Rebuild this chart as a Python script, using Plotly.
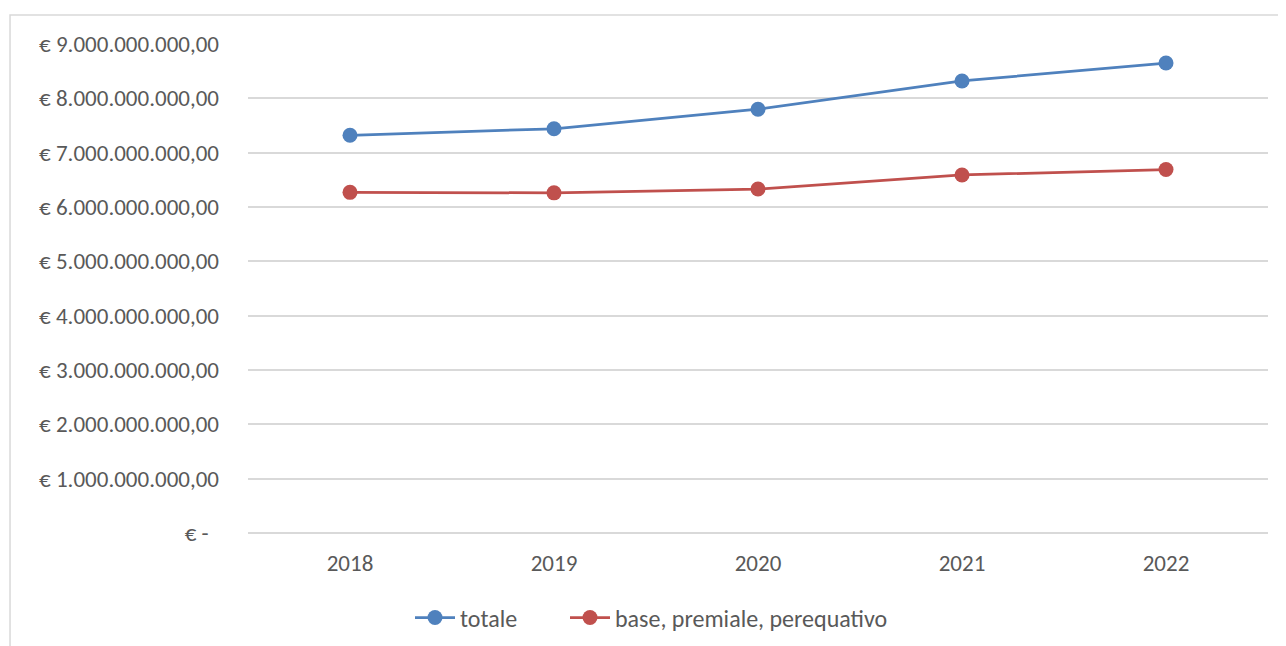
import plotly.graph_objects as go

years = ["2018", "2019", "2020", "2021", "2022"]
totale = [7.32e9, 7.44e9, 7.80e9, 8.32e9, 8.65e9]
base_premiale = [6.27e9, 6.26e9, 6.33e9, 6.59e9, 6.69e9]
series_names = ["totale", "base, premiale, perequativo"]
y_tick_vals = [0, 1e9, 2e9, 3e9, 4e9, 5e9, 6e9, 7e9, 8e9, 9e9]
y_tick_text = ["€ -\u00a0\u00a0"] + [f"€ {i}.000.000.000,00" for i in range(1, 10)]

FONT = "Carlito, Calibri, Lato, sans-serif"
TXT = "#595959"
FS = 23

fig = go.Figure()
fig.add_trace(go.Scatter(
    x=years, y=totale, name=series_names[0], mode="lines+markers",
    line=dict(color="#4F81BD", width=2.75),
    marker=dict(color="#4F81BD", size=15),
    legend="legend",
))
fig.add_trace(go.Scatter(
    x=years, y=base_premiale, name=series_names[1], mode="lines+markers",
    line=dict(color="#C0504D", width=2.75),
    marker=dict(color="#C0504D", size=15),
    legend="legend2",
))

leg_common = dict(
    orientation="h", xref="container", yref="container",
    y=0.044, xanchor="left", yanchor="middle",
    font=dict(family=FONT, color=TXT, size=24),
    itemwidth=40, bgcolor="rgba(0,0,0,0)",
)

fig.update_layout(
    width=1278, height=638,
    margin=dict(l=240, r=18, t=36, b=113),
    paper_bgcolor="white", plot_bgcolor="white",
    font=dict(family=FONT, color=TXT, size=FS),
    showlegend=True,
    legend=dict(x=402 / 1278, **leg_common),
    legend2=dict(x=557 / 1278, **leg_common),
    xaxis=dict(
        type="category", range=[-0.5, 4.5],
        showgrid=False, zeroline=False, showline=False,
        ticks="", ticklabelstandoff=14,
        tickfont=dict(family=FONT, color=TXT, size=FS),
    ),
    yaxis=dict(
        range=[0, 9e9], tickvals=y_tick_vals, ticktext=y_tick_text,
        showgrid=True, gridcolor="#D9D9D9", gridwidth=1.7,
        zeroline=True, zerolinecolor="#D9D9D9", zerolinewidth=1.7,
        showline=False, ticks="",
        ticklabelstandoff=28,
        tickfont=dict(family=FONT, color=TXT, size=FS),
    ),
    shapes=[dict(
        type="rect", xref="paper", yref="paper",
        x0=-0.2333, x1=1.05, y0=-0.3, y1=1.0593,
        line=dict(color="#D9D9D9", width=1.5), fillcolor="rgba(0,0,0,0)",
        layer="below",
    )],
)

fig.write_html("out.html")
